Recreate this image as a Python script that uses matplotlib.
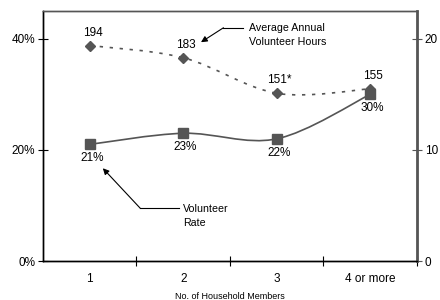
import numpy as np
import matplotlib
matplotlib.use("Agg")
import matplotlib.pyplot as plt
from matplotlib.path import Path
from matplotlib.patches import PathPatch

plt.rcParams['font.family'] = ['Liberation Sans', 'DejaVu Sans']

categories = ['1', '2', '3', '4 or more']
volunteer_rate = [21, 23, 22, 30]
rate_labels = ['21%', '23%', '22%', '30%']
annual_hours = [194, 183, 151, 155]
hours_labels = ['194', '183', '151*', '155']

grey = '#555555'


def smooth_path(xs, ys):
    # catmull-rom through the points, drawn as cubic bezier segments
    pts = np.column_stack([xs, ys]).astype(float)
    verts = [pts[0]]
    codes = [Path.MOVETO]
    n = len(pts)
    for i in range(n - 1):
        p0 = pts[i - 1] if i > 0 else pts[i]
        p1 = pts[i]
        p2 = pts[i + 1]
        p3 = pts[i + 2] if i + 2 < n else pts[i + 1]
        c1 = p1 + (p2 - p0) / 6.0
        c2 = p2 - (p3 - p1) / 6.0
        verts += [c1, c2, p2]
        codes += [Path.CURVE4] * 3
    return Path(verts, codes)


fig = plt.figure(figsize=(4.4, 3.0), dpi=100)
ax = fig.add_axes([0.0977, 0.13, 0.8500, 0.833])
ax2 = ax.twinx()

x = np.arange(len(categories))

# volunteer rate (left axis)
ax.add_patch(PathPatch(smooth_path(x, volunteer_rate), fill=False,
                       edgecolor=grey, lw=1.2, zorder=3))
ax.plot(x, volunteer_rate, ls='none', marker='s', ms=7, color=grey, zorder=4)
for xi, v, lab in zip(x, volunteer_rate, rate_labels):
    ax.annotate(lab, (xi, v), xytext=(2, -14), textcoords='offset pixels',
                ha='center', va='center', fontsize=8.5)

# average annual hours (right axis, in tens of hours)
hours_scaled = [h / 10 for h in annual_hours]
ax2.add_patch(PathPatch(smooth_path(x, hours_scaled), fill=False,
                        edgecolor=grey, lw=1.2, linestyle=(0, (2, 4)), zorder=3))
ax2.plot(x, hours_scaled, ls='none', marker='D', ms=5, color=grey, zorder=4)
for xi, v, lab in zip(x, hours_scaled, hours_labels):
    ax2.annotate(lab, (xi, v), xytext=(3, 13), textcoords='offset pixels',
                 ha='center', va='center', fontsize=8.5)

ax.set_xlim(-0.5, 3.5)
ax.set_ylim(0, 45)
ax2.set_ylim(0, 22.5)

ax.set_yticks([0, 20, 40])
ax.set_yticklabels(['0%', '20%', '40%'])
ax2.set_yticks([0, 10, 20])

ax.set_xticks(x + 0.5)
ax.set_xticklabels([])
ax.set_xticks(x, minor=True)
ax.set_xticklabels(categories, minor=True)
ax.tick_params(axis='x', which='major', direction='inout', length=7, width=0.8)
ax.tick_params(axis='x', which='minor', length=0, labelsize=8.5, pad=9)
ax.tick_params(axis='y', direction='inout', length=7, width=0.8, labelsize=8.5, pad=2)
ax2.tick_params(axis='y', direction='inout', length=7, width=0.8, labelsize=8.5,
                pad=2, color=grey)

ax.set_xlabel('No. of Household Members', fontsize=6.5, labelpad=5)

for a in (ax, ax2):
    a.spines['top'].set_color(grey)
    a.spines['top'].set_linewidth(1.0)
    a.spines['left'].set_linewidth(1.0)
    a.spines['bottom'].set_linewidth(1.0)
ax2.spines['right'].set_color(grey)
ax2.spines['right'].set_linewidth(2.0)

# callouts
ax2.annotate('', xy=(1.19, 19.7), xytext=(1.43, 21.0),
             arrowprops=dict(arrowstyle='-|>', color='black', lw=0.8,
                             mutation_scale=9, shrinkA=0, shrinkB=0))
ax2.plot([1.43, 1.64], [21.0, 21.0], color='black', lw=0.8)
ax2.text(1.70, 21.4, 'Average Annual\nVolunteer Hours', fontsize=7.7,
         va='top', ha='left', linespacing=1.5)

ax.annotate('', xy=(0.14, 16.7), xytext=(0.54, 9.5),
            arrowprops=dict(arrowstyle='-|>', color='black', lw=0.8,
                            mutation_scale=9, shrinkA=0, shrinkB=0))
ax.plot([0.54, 0.95], [9.5, 9.5], color='black', lw=0.8)
ax.text(1.0, 10.3, 'Volunteer\nRate', fontsize=7.7, va='top', ha='left',
        linespacing=1.5)

fig.savefig('out.png', dpi=100)
